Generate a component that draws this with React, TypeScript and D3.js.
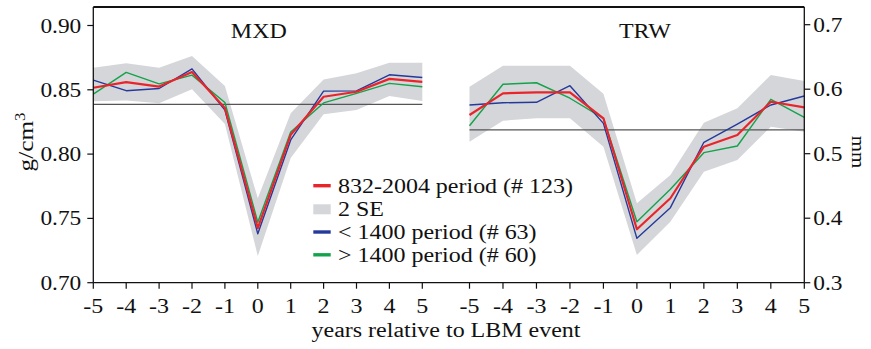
import React from "react";
import * as d3 from "d3";

const years = [-5, -4, -3, -2, -1, 0, 1, 2, 3, 4, 5];

const mxdAll = [0.8516, 0.856, 0.8525, 0.8638, 0.8358, 0.7425, 0.815, 0.8446, 0.8485, 0.8585, 0.8561];
const mxdEarly = [0.8575, 0.8493, 0.851, 0.8663, 0.8343, 0.738, 0.811, 0.849, 0.8492, 0.8617, 0.8596];
const mxdLate = [0.8466, 0.8635, 0.8546, 0.8614, 0.8401, 0.747, 0.8172, 0.8398, 0.8472, 0.855, 0.8524];
const mxdUpper = [0.8671, 0.8706, 0.8671, 0.8763, 0.853, 0.7656, 0.8317, 0.8581, 0.8628, 0.8711, 0.8711];
const mxdLower = [0.841, 0.8417, 0.8395, 0.8504, 0.8235, 0.7208, 0.797, 0.831, 0.8343, 0.8452, 0.8413];
const mxdMean = 0.8387;

const trwAll = [0.56, 0.5936, 0.5952, 0.5952, 0.5549, 0.3828, 0.4309, 0.5109, 0.529, 0.5806, 0.5719];
const trwEarly = [0.5755, 0.579, 0.5797, 0.6054, 0.547, 0.3688, 0.4163, 0.5177, 0.546, 0.5755, 0.5895];
const trwLate = [0.5434, 0.6076, 0.61, 0.586, 0.5549, 0.3946, 0.4448, 0.5016, 0.5119, 0.5843, 0.5564];
const trwUpper = [0.6039, 0.6364, 0.6364, 0.6364, 0.5928, 0.4231, 0.467, 0.548, 0.5704, 0.622, 0.6127];
const trwLower = [0.5186, 0.5512, 0.5549, 0.5549, 0.5109, 0.343, 0.3946, 0.472, 0.4902, 0.5419, 0.5341];
const trwMean = 0.537;

const leftTicks = [0.7, 0.75, 0.8, 0.85, 0.9];
const rightTicks = [0.3, 0.4, 0.5, 0.6, 0.7];

const legendLabels = ["832-2004 period (# 123)", "2 SE", "< 1400 period (# 63)", "> 1400 period (# 60)"];

const RED = "#e8252b";
const BLUE = "#25399a";
const GREEN = "#14a24a";
const BAND = "#d5d6da";
const FONT = "'Liberation Serif', 'Times New Roman', serif";
const SX = 1.17;

export default function App() {
  const W = 871, H = 349;
  const left = 93.3, right = 804.3, top = 7, bottom = 282.7;
  const xM = d3.scaleLinear().domain([-5, 5]).range([93.3, 422.3]);
  const xT = d3.scaleLinear().domain([-5, 5]).range([469.5, 804.3]);
  const yL = d3.scaleLinear().domain([0.7, 0.9]).range([282.7, 25.5]);
  const yR = d3.scaleLinear().domain([0.3, 0.7]).range([282.7, 24.7]);

  const line = (x: any, y: any, vals: number[]) =>
    d3.line<number>().x((_, i) => x(years[i])).y((d) => y(d))(vals) || "";
  const band = (x: any, y: any, up: number[], lo: number[]) =>
    d3
      .area<number>()
      .x((_, i) => x(years[i]))
      .y0((_, i) => y(lo[i]))
      .y1((d) => y(d))(up) || "";

  const txt = (x: number, y: number, s: string, anchor: string, size = 20, key?: any) => (
    <text
      key={key}
      transform={`translate(${x},${y}) scale(${SX},1)`}
      textAnchor={anchor}
      fontSize={size}
      fontFamily={FONT}
      fill="#111"
    >
      {s}
    </text>
  );

  const panels = [
    { x: xM, y: yL, all: mxdAll, early: mxdEarly, late: mxdLate, up: mxdUpper, lo: mxdLower, mean: mxdMean, title: "MXD" },
    { x: xT, y: yR, all: trwAll, early: trwEarly, late: trwLate, up: trwUpper, lo: trwLower, mean: trwMean, title: "TRW" },
  ];

  const legendColors = [RED, BAND, BLUE, GREEN];
  const legY = [185.7, 209.3, 232, 254.8];

  return (
    <svg width={W} height={H} style={{ position: "absolute", left: 0, top: 0, background: "#fff" }}>
      {panels.map((p, k) => (
        <g key={k}>
          <path d={band(p.x, p.y, p.up, p.lo)} fill={BAND} />
          <line x1={p.x(-5)} x2={p.x(5)} y1={p.y(p.mean)} y2={p.y(p.mean)} stroke="#555" strokeWidth={1.2} />
          <path d={line(p.x, p.y, p.late)} fill="none" stroke={GREEN} strokeWidth={1.4} strokeLinejoin="round" />
          <path d={line(p.x, p.y, p.early)} fill="none" stroke={BLUE} strokeWidth={1.4} strokeLinejoin="round" />
          <path d={line(p.x, p.y, p.all)} fill="none" stroke={RED} strokeWidth={2.2} strokeLinejoin="round" />
          {txt((p.x(-5) + p.x(5)) / 2 + (k === 0 ? 1 : 8), 38, p.title, "middle", 20.5)}
          {years.map((yv, i) => (
            <g key={i}>
              <line x1={p.x(yv)} x2={p.x(yv)} y1={bottom} y2={bottom + 6} stroke="#111" strokeWidth={1.2} />
              {txt(p.x(yv), 313, String(yv), "middle", 20.5, "t" + i)}
            </g>
          ))}
        </g>
      ))}
      {/* frame */}
      <line x1={left} x2={right} y1={top} y2={top} stroke="#111" strokeWidth={1.8} />
      <line x1={left} x2={right} y1={bottom} y2={bottom} stroke="#111" strokeWidth={1.3} />
      <line x1={left} x2={left} y1={top} y2={bottom} stroke="#111" strokeWidth={1.3} />
      <line x1={right} x2={right} y1={top} y2={bottom} stroke="#111" strokeWidth={1.3} />
      {leftTicks.map((t, i) => (
        <g key={"l" + i}>
          <line x1={left - 6} x2={left} y1={yL(t)} y2={yL(t)} stroke="#111" strokeWidth={1.2} />
          {txt(left - 12, yL(t) + 7, t.toFixed(2), "end", 20)}
        </g>
      ))}
      {rightTicks.map((t, i) => (
        <g key={"r" + i}>
          <line x1={right} x2={right + 6} y1={yR(t)} y2={yR(t)} stroke="#111" strokeWidth={1.2} />
          {txt(right + 9, yR(t) + 7, t.toFixed(1), "start", 20)}
        </g>
      ))}
      <text transform={`translate(33,142) rotate(-90) scale(1.2,1)`} textAnchor="middle" fontSize={21} fontFamily={FONT} fill="#111">
        g/cm<tspan dy={-8} fontSize={14}>3</tspan>
      </text>
      <text transform={`translate(852,152) rotate(90) scale(1.1,1)`} textAnchor="middle" fontSize={19} fontFamily={FONT} fill="#111">
        mm
      </text>
      {txt(446, 337, "years relative to LBM event", "middle", 20.5)}
      {legendLabels.map((l, i) => (
        <g key={"lg" + i}>
          {i === 1 ? (
            <rect x={313.3} y={legY[i] - 5} width={17.4} height={10} fill={BAND} />
          ) : (
            <line x1={313.3} x2={330.7} y1={legY[i]} y2={legY[i]} stroke={legendColors[i]} strokeWidth={3.4} />
          )}
          {txt(338, legY[i] + 7, l, "start", 20.5)}
        </g>
      ))}
    </svg>
  );
}
